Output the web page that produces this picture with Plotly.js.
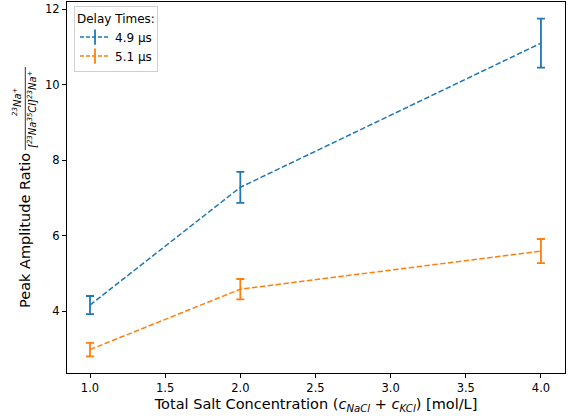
<!DOCTYPE html>
<html><head><meta charset="utf-8">
<script src="https://cdn.plot.ly/plotly-3.0.1.min.js"></script>
<style>html,body{margin:0;padding:0;background:#fff}#chart{width:569px;height:420px}</style>
</head><body><div id="chart"></div>
<script>
const concentration = [1.0, 2.0, 4.0];
const ratio49 = [4.16, 7.28, 11.10];
const err49 = [0.24, 0.41, 0.65];
const ratio51 = [2.98, 4.58, 5.59];
const err51 = [0.18, 0.27, 0.32];
const seriesNames = ['4.9 μs', '5.1 μs'];
const xTicks = [1.0, 1.5, 2.0, 2.5, 3.0, 3.5, 4.0];
const yTicks = [4, 6, 8, 10, 12];

const font = 'DejaVu Sans, sans-serif';
const colors = ['#1f77b4', '#ff7f0e'];
const dash = '5.5px,2.4px';
function trace(y, e, color) {
  return {
    x: concentration, y: y, type: 'scatter', mode: 'lines', showlegend: false,
    line: {color: color, width: 1.5, dash: dash},
    error_y: {type: 'data', array: e, visible: true, color: color, thickness: 1.8, width: 4}
  };
}
function legendTrace(name, color) {
  return {
    x: [null], y: [null], type: 'scatter', mode: 'lines+markers', name: name,
    line: {color: color, width: 1.5, dash: '4px,2px'},
    marker: {symbol: 'line-ns-open', size: 11, color: color, line: {color: color, width: 1.8}}
  };
}
const data = [
  trace(ratio49, err49, colors[0]),
  trace(ratio51, err51, colors[1]),
  legendTrace(seriesNames[0], colors[0]),
  legendTrace(seriesNames[1], colors[1])
];
const axisCommon = {
  showgrid: false, zeroline: false, showline: true, mirror: true,
  linecolor: '#000', linewidth: 1, ticks: 'outside', ticklen: 4, tickwidth: 1,
  tickcolor: '#000', tickfont: {family: font, size: 11.5, color: '#000'}
};
const px = (p) => (p - 67) / 498;
const py = (p) => (373 - p) / 371;
const layout = {
  width: 569, height: 420,
  margin: {l: 67, r: 4, t: 2, b: 47},
  paper_bgcolor: '#fff', plot_bgcolor: '#fff',
  font: {family: font, color: '#000'},
  showlegend: true,
  xaxis: Object.assign({}, axisCommon, {
    range: [0.847, 4.16], tickvals: xTicks,
    ticktext: xTicks.map(v => v.toFixed(1)),
    title: {text: 'Total Salt Concentration (<i>c<sub>NaCl</sub></i> + <i>c<sub>KCl</sub></i>) [mol/L]',
            font: {family: font, size: 14.5}, standoff: 5}
  }),
  yaxis: Object.assign({}, axisCommon, {
    range: [2.36, 12.19], tickvals: yTicks,
    ticktext: yTicks.map(String)
  }),
  legend: {
    x: px(74), y: py(6), xanchor: 'left', yanchor: 'top',
    bgcolor: 'rgba(255,255,255,0.8)', bordercolor: '#d0d0d0', borderwidth: 1,
    font: {family: font, size: 12},
    title: {text: 'Delay Times:', font: {family: font, size: 12}},
    itemwidth: 30, tracegroupgap: 0
  },
  annotations: [
    {xref: 'paper', yref: 'paper', x: px(25), y: py(231), xanchor: 'center', yanchor: 'middle',
     text: 'Peak Amplitude Ratio', textangle: -90, showarrow: false,
     font: {family: font, size: 14.5}},
    {xref: 'paper', yref: 'paper', x: px(17), y: py(102), xanchor: 'center', yanchor: 'middle',
     text: '<i><sup>23</sup>Na<sup>+</sup></i>', textangle: -90, showarrow: false,
     font: {family: font, size: 10}},
    {xref: 'paper', yref: 'paper', x: px(32), y: py(109), xanchor: 'center', yanchor: 'middle',
     text: '<i>[<sup>23</sup>Na<sup>35</sup>Cl]<sup>23</sup>Na<sup>+</sup></i>', textangle: -90, showarrow: false,
     font: {family: font, size: 10}}
  ],
  shapes: [
    {type: 'line', xref: 'paper', yref: 'paper', x0: px(25.3), x1: px(25.3), y0: py(67), y1: py(150),
     line: {color: '#000', width: 0.8}}
  ]
};
Plotly.newPlot('chart', data, layout, {displayModeBar: false, staticPlot: true});
</script></body></html>
